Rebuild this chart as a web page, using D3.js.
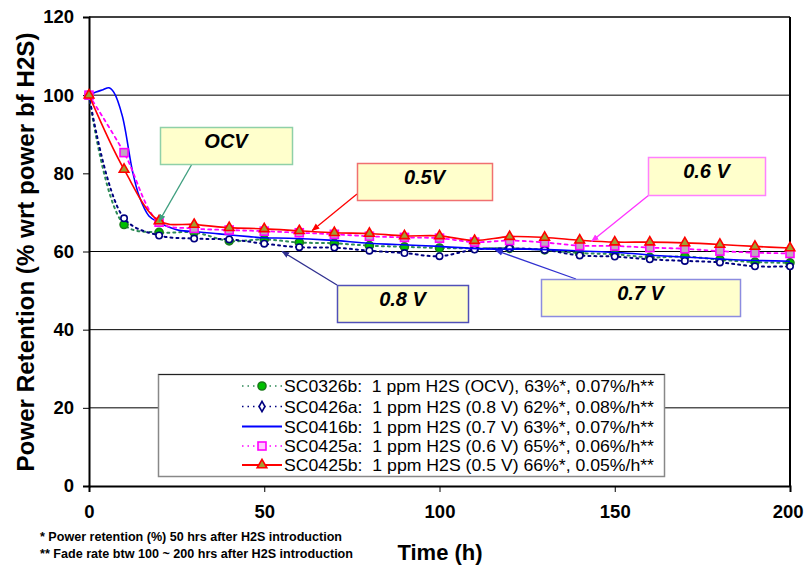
<!DOCTYPE html>
<html><head><meta charset="utf-8">
<script src="https://cdn.jsdelivr.net/npm/d3@7"></script>
<style>
body{margin:0;background:#fff}
svg{display:block;font-family:Arial,"Liberation Sans",sans-serif}
</style>
</head><body>
<svg id="chart" width="804" height="565"></svg>
<script>
// ---------- data ----------
const hours = [0,10,20,30,40,50,60,70,80,90,100,110,120,130,140,150,160,170,180,190,200];
const ocvValues = [100,66.9,64.9,64.9,62.7,63.1,62.3,62.1,61.5,61.2,60.9,60.8,60.8,60.4,59.6,59.3,58.5,58.7,57.9,57.3,57.1];
const v08Values = [100,68.5,64.1,63.3,63.1,62.0,61.1,61.0,60.2,59.6,58.8,60.5,60.8,60.4,59.0,58.7,58.0,57.6,57.2,56.2,56.2];
const v06Values = [100,85.3,67.5,65.9,65.5,65.2,64.8,64.4,63.9,63.6,63.4,62.4,62.8,62.3,61.5,61.4,61.0,60.7,60.1,59.7,59.5];
const v05Values = [100,81.0,67.8,66.9,66.1,65.8,65.3,64.8,64.6,64.0,64.0,62.8,63.8,63.6,62.9,62.4,62.4,62.2,61.8,61.3,60.9];
const v07Hours  = [0,2,4,5.7,7.1,9.5,12.4,14.3,17.1,20,22.9,25.7,31.4,37.1,45.7,50,57.1,68.6,80,87.6,100,109,116,125,139,155,163,174,184,200];
const v07Values = [100,100.8,101.4,101.9,100.7,94.7,80.6,74.2,69.1,67.4,66.2,65.4,65.0,64.5,63.8,63.5,63.4,62.9,62.1,61.8,61.3,60.8,60.6,60.6,60.2,59.5,58.9,58.4,57.9,57.5];
const legendLabels = [
  "SC0326b:  1 ppm H2S (OCV), 63%*, 0.07%/h**",
  "SC0426a:  1 ppm H2S (0.8 V) 62%*, 0.08%/h**",
  "SC0416b:  1 ppm H2S (0.7 V) 63%*, 0.07%/h**",
  "SC0425a:  1 ppm H2S (0.6 V) 65%*, 0.06%/h**",
  "SC0425b:  1 ppm H2S (0.5 V) 66%*, 0.05%/h**"
];
const xTickValues = [0,50,100,150,200];
const yTickValues = [0,20,40,60,80,100,120];
const gridValues = [20,40,60,100];
const noteLabels = ["OCV","0.5V","0.6 V","0.8 V","0.7 V"];
const noteTargets = [[20,67.7],[63.7,65.4],[143.4,62.6],[55.1,60.0],[116,60.3]];
const footnotes = ["* Power retention (%) 50 hrs after H2S introduction","** Fade rate btw 100 ~ 200 hrs after H2S introduction"];

// ---------- layout ----------
const svg = d3.select("#chart");
const x = d3.scaleLinear().domain([0,200]).range([89,790]);
const y = d3.scaleLinear().domain([0,120]).range([486,17]);

// gridlines
svg.append("g").selectAll("line").data(gridValues).join("line")
  .attr("x1",x(0)).attr("x2",x(200)).attr("y1",d=>y(d)).attr("y2",d=>y(d))
  .attr("stroke","#000").attr("stroke-width",1);

// plot border top/right
svg.append("line").attr("x1",x(0)).attr("x2",x(200)).attr("y1",y(120)).attr("y2",y(120)).attr("stroke","#000").attr("stroke-width",1.5);
svg.append("line").attr("x1",x(200)).attr("x2",x(200)).attr("y1",y(120)).attr("y2",y(0)).attr("stroke","#000").attr("stroke-width",2);

// legend box
const lg = svg.append("g");
lg.append("rect").attr("x",158.5).attr("y",374.5).attr("width",506).attr("height",102)
  .attr("fill","#fff").attr("stroke","#888").attr("stroke-width",1.5);
lg.append("line").attr("x1",158.5).attr("x2",664.5).attr("y1",374.5).attr("y2",374.5).attr("stroke","#222").attr("stroke-width",1.2);

// axes
const yAxis = svg.append("g").attr("transform",`translate(${x(0)},0)`)
  .call(d3.axisLeft(y).tickValues(yTickValues).tickSize(6).tickPadding(9).tickFormat(d3.format("d")));
const xAxis = svg.append("g").attr("transform",`translate(0,${y(0)})`)
  .call(d3.axisBottom(x).tickValues(xTickValues).tickSize(6).tickPadding(13).tickFormat(d3.format("d")));
[yAxis,xAxis].forEach(a=>{
  a.select(".domain").attr("stroke","#000").attr("stroke-width",2);
  a.selectAll(".tick line").attr("stroke","#000").attr("stroke-width",1);
  a.selectAll("text").attr("font-size",18.5).attr("font-weight","bold").attr("fill","#000")
   .attr("font-family","Arial,'Liberation Sans',sans-serif");
});
// keep last x label inside the page
xAxis.selectAll(".tick").filter(d=>d===200).select("text").attr("text-anchor","end").attr("x",13);

// series
const smooth = d3.line().x(d=>x(d[0])).y(d=>y(d[1])).curve(d3.curveCatmullRom.alpha(0.5));
const zip = (a,b)=>a.map((t,i)=>[t,b[i]]);

const series = [
  {pts:zip(hours,ocvValues), color:"#2e8b57", dash:"2,4", width:2, marker:"circle", fill:"#00c000", mstroke:"#1a7a1a"},
  {pts:zip(hours,v08Values), color:"#000080", dash:"2,4", width:2, marker:"ring", fill:"#fff", mstroke:"#000080"},
  {pts:zip(v07Hours,v07Values), color:"#0000ff", dash:null, width:1.6, marker:null},
  {pts:zip(hours,v06Values), color:"#ff00ff", dash:"3,4", width:1.8, marker:"square", fill:"#c0a8c0", mstroke:"#ff00ff"},
  {pts:zip(hours,v05Values), color:"#ff0000", dash:null, width:1.6, marker:"triangle", fill:"#a0a030", mstroke:"#ff0000"}
];

function addMarker(g, sr, cx, cy, legend){
  let el;
  if(sr.marker==="circle") el = g.append("circle").attr("cx",cx).attr("cy",cy).attr("r",4);
  else if(sr.marker==="ring"){
    if(legend) el = g.append("path").attr("d",d3.symbol(d3.symbolDiamond,30)()).attr("transform",`translate(${cx},${cy})`);
    else el = g.append("circle").attr("cx",cx).attr("cy",cy).attr("r",3.2);
  }
  else if(sr.marker==="square") el = g.append("rect").attr("x",cx-4).attr("y",cy-4).attr("width",8).attr("height",8);
  else if(sr.marker==="triangle") el = g.append("path").attr("d",d3.symbol(d3.symbolTriangle,40)()).attr("transform",`translate(${cx},${cy})`);
  if(el) el.attr("fill",legend && sr.marker==="square" ? "#ffc8ff" : sr.fill).attr("stroke",sr.mstroke).attr("stroke-width",1.6);
}

const dg = svg.append("g");
series.forEach(sr=>{
  const path = dg.append("path").datum(sr.pts)
    .attr("d", smooth)
    .attr("fill","none").attr("stroke",sr.color).attr("stroke-width",sr.width)
    .attr("stroke-linecap", sr.dash ? "round":"butt");
  if(sr.dash) path.attr("stroke-dasharray",sr.dash);
  if(sr.marker){
    const mg = dg.append("g");
    sr.pts.forEach(p=>addMarker(mg,sr,x(p[0]),y(p[1]),false));
  }
});

// legend entries
const rowY = [386,406.5,426.5,446,465];
series.forEach((sr,i)=>{
  const g = lg.append("g");
  const l = g.append("line").attr("x1",242).attr("x2",282).attr("y1",rowY[i]).attr("y2",rowY[i])
    .attr("stroke",sr.color).attr("stroke-width",sr.dash?1.6:2);
  if(sr.dash) l.attr("stroke-dasharray","1.5,4");
  addMarker(g,sr,262,rowY[i],true);
  g.append("text").attr("x",284).attr("y",rowY[i]+6).attr("font-size",16.5)
    .style("white-space","pre").attr("textLength",370).attr("lengthAdjust","spacingAndGlyphs")
    .attr("fill","#000").text(legendLabels[i]);
});

// annotations
const boxes = [
  {x:160,y:127,w:132,h:37,border:"#8fd0a8",lead:"#3f9f7f",from:[192,164]},
  {x:357,y:163,w:135,h:37,border:"#f07070",lead:"#ff0000",from:[357,194]},
  {x:648,y:157,w:117,h:38,border:"#ff80ff",lead:"#ff33ff",from:[649,195]},
  {x:337,y:285,w:131,h:37,border:"#5050b8",lead:"#303090",from:[337,285]},
  {x:541,y:279,w:199,h:37,border:"#8c8ce0",lead:"#3030d0",from:[576,279]}
];
const defs = svg.append("defs");
boxes.forEach((b,i)=>{
  defs.append("marker").attr("id","arr"+i).attr("viewBox","0 0 10 10").attr("refX",9).attr("refY",5)
    .attr("markerWidth",6).attr("markerHeight",6).attr("orient","auto")
    .append("path").attr("d","M0,1L10,5L0,9Z").attr("fill",b.lead);
});
const ag = svg.append("g");
boxes.forEach((b,i)=>{
  const t = noteTargets[i];
  ag.append("line").attr("x1",b.from[0]).attr("y1",b.from[1]).attr("x2",x(t[0])).attr("y2",y(t[1]))
    .attr("stroke",b.lead).attr("stroke-width",1.3).attr("marker-end",`url(#arr${i})`);
  ag.append("rect").attr("x",b.x+0.5).attr("y",b.y+0.5).attr("width",b.w).attr("height",b.h)
    .attr("fill","#ffffcc").attr("stroke",b.border).attr("stroke-width",1.5);
  ag.append("text").attr("x",b.x+b.w/2).attr("y",b.y+21).attr("text-anchor","middle")
    .attr("font-size",20).attr("font-weight","bold").attr("font-style","italic").attr("fill","#000")
    .text(noteLabels[i]);
});

// axis titles
svg.append("text").attr("transform","translate(34,252) rotate(-90)").attr("text-anchor","middle")
  .attr("font-size",23).attr("font-weight","bold").attr("textLength",439).attr("lengthAdjust","spacingAndGlyphs")
  .attr("fill","#000").text("Power Retention (% wrt power bf H2S)");
svg.append("text").attr("x",440).attr("y",560).attr("text-anchor","middle")
  .attr("font-size",22).attr("font-weight","bold").attr("fill","#000").text("Time (h)");

// footnotes
const fnLen = [302,313];
footnotes.forEach((f,i)=>{
  svg.append("text").attr("x",40).attr("y",541+i*17).attr("font-size",12.5).attr("font-weight","bold")
    .attr("textLength",fnLen[i]).attr("lengthAdjust","spacingAndGlyphs").attr("fill","#000").text(f);
});
</script>
</body></html>
